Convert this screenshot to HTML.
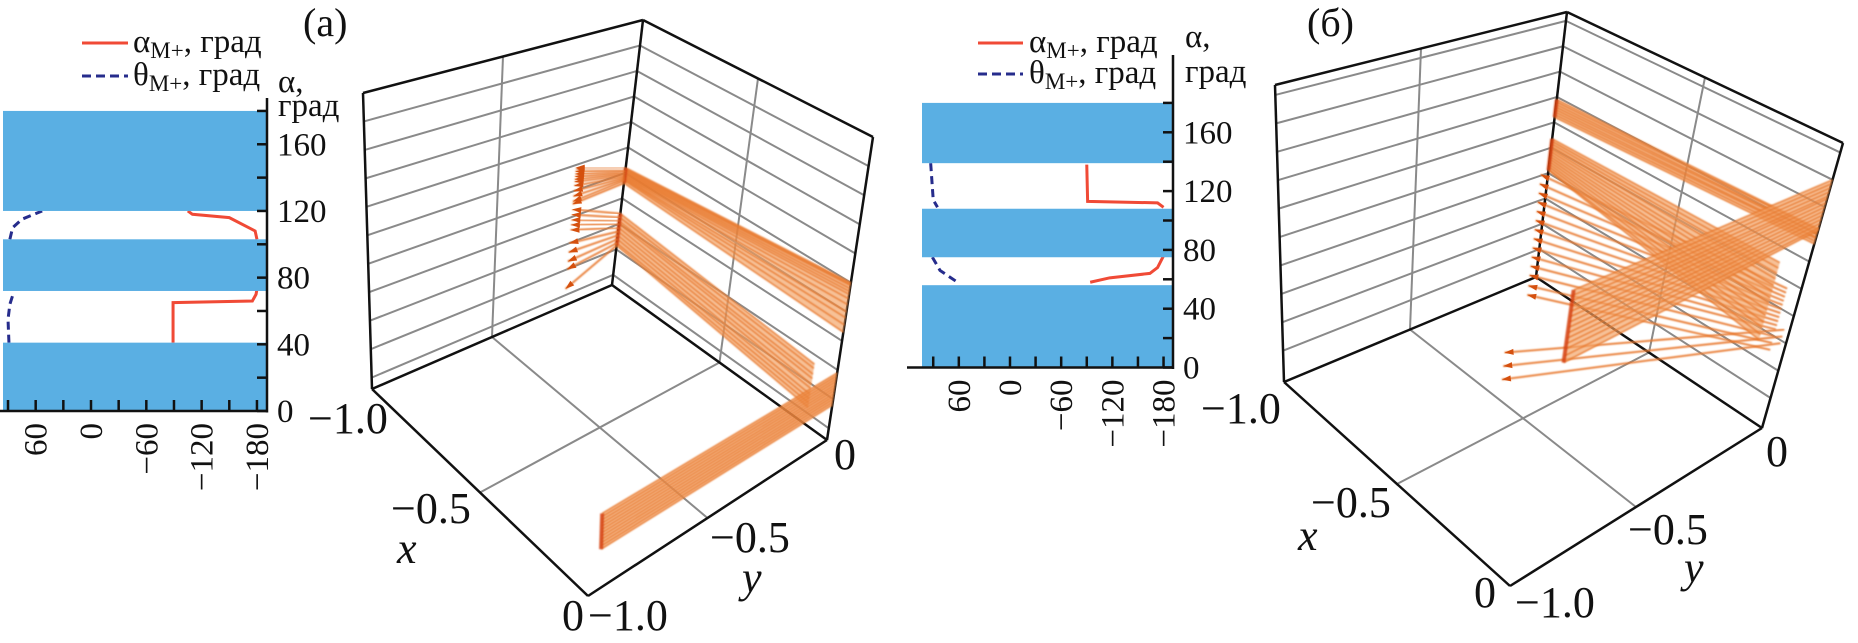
<!DOCTYPE html>
<html><head><meta charset="utf-8"><style>
html,body{margin:0;padding:0;background:#fff;}
svg{display:block;font-family:"Liberation Serif",serif;}
</style></head><body>
<svg id="fig" width="1858" height="643" viewBox="0 0 1858 643">
<defs><filter id="soft" x="-5%" y="-5%" width="110%" height="110%"><feGaussianBlur stdDeviation="0.7"/></filter></defs>
<g id="insetA"></g>
<g id="insetB"></g>
<g id="boxA"></g>
<g id="boxB"></g>
<g font-size="40" fill="#111">
<text x="303" y="36">(a)</text>
<text x="1307" y="36">(б)</text>
</g>
<g font-size="33" fill="#111">
<line x1="82" y1="43" x2="128" y2="43" stroke="#f04a36" stroke-width="3"/>
<text x="133" y="52">α<tspan font-size="23" dy="6">М+</tspan><tspan dy="-6">, град</tspan></text>
<line x1="82" y1="76" x2="128" y2="76" stroke="#262c8c" stroke-width="3" stroke-dasharray="9,5"/>
<text x="133" y="85">θ<tspan font-size="23" dy="6">М+</tspan><tspan dy="-6">, град</tspan></text>
<text x="278" y="92">α,</text>
<text x="278" y="116">град</text>
</g>
<g font-size="33" fill="#111">
<line x1="978" y1="43" x2="1023" y2="43" stroke="#f04a36" stroke-width="3"/>
<text x="1029" y="52">α<tspan font-size="23" dy="6">М+</tspan><tspan dy="-6">, град</tspan></text>
<line x1="978" y1="74" x2="1023" y2="74" stroke="#262c8c" stroke-width="3" stroke-dasharray="9,5"/>
<text x="1029" y="83">θ<tspan font-size="23" dy="6">М+</tspan><tspan dy="-6">, град</tspan></text>
<text x="1185" y="47">α,</text>
<text x="1185" y="82">град</text>
</g>
<g font-size="44" fill="#111">
<text x="308" y="433">−1.0</text>
<text x="391" y="523">−0.5</text>
<text x="397" y="563" font-style="italic">x</text>
<text x="562" y="630">0</text>
<text x="588" y="630">−1.0</text>
<text x="710" y="552">−0.5</text>
<text x="742" y="592" font-style="italic">y</text>
<text x="834" y="469">0</text>
<text x="1201" y="423">−1.0</text>
<text x="1311" y="517">−0.5</text>
<text x="1298" y="550" font-style="italic">x</text>
<text x="1474" y="607">0</text>
<text x="1515" y="617">−1.0</text>
<text x="1628" y="544">−0.5</text>
<text x="1684" y="582" font-style="italic">y</text>
<text x="1766" y="466">0</text>
</g>
</svg>
<script>
// ---------- inset data ----------
const alphaTicks = [0,20,40,60,80,100,120,140,160,180];
const alphaTickLabels = [0,40,80,120,160];
const thetaTicks = [90,60,30,0,-30,-60,-90,-120,-150,-180];
const thetaTickLabels = [60,0,-60,-120,-180];
// panel (a) inset
const aBarsTop = [180,103,41];
const aBarsBottom = [120,72,0];
const aRedTheta1 = [-89,-89,-175,-179,-180];
const aRedAlpha1 = [41,65,66,70,73];
const aRedTheta2 = [-180,-178,-150,-110,-105];
const aRedAlpha2 = [103,108,116,118,120];
const aBlueTheta1 = [89,90,88,84];
const aBlueAlpha1 = [41,55,64,71];
const aBlueTheta2 = [88,85,75,53];
const aBlueAlpha2 = [103,110,115,120];
// panel (б) inset
const bBarsTop = [180,108,56];
const bBarsBottom = [139,75,0];
const bRedTheta1 = [-90,-91,-173,-180];
const bRedAlpha1 = [138,113,112,109];
const bRedTheta2 = [-180,-173,-164,-117,-94];
const bRedAlpha2 = [76,68,64,61,58];
const bBlueTheta1 = [93,90,85];
const bBlueAlpha1 = [139,114,109];
const bBlueTheta2 = [91,82,59];
const bBlueAlpha2 = [75,66,57];

// ---------- 3D trajectory data (x, y in [-1,0], alpha in degrees) ----------
const zGrid = [0,20,40,60,80,100,120,140,160,180];
// (a) upper band
const aUpTail = [98,97,95,93,91,89,87,84,80,76,72,70];
const aUpMid  = [84,83,82,81,80,79,78,77,76,75,74,72];
const aUpEnd  = [100,99,98,96,94,92,89,85,80,76,71,66];
// (a) lower band
const aLoTail = [66,62,58,54,50,40,33,26,20,5];
const aLoMid  = [48,45,42,40,37,34,31,28,25,23];
const aLoEnd  = [34,31,27,24,20,17,13,10,7,4];
// (a) bottom band (x = 0 plane)
const aBotAlpha = [16,18,20,22,24,26,28,30,32,34,36,38];
// (б) dark band
const bDkMid = [118,116,114,112,110,108,106,104];
const bDkEnd = [124,123,121,120,118,117,115,113];
// (б) light band
const bLtMid = [87,85,83,81,79,77,75,73,71,69,67,65,63,62];
const bLtEnd = [89,85,81,77,72,68,63,59,54,50,45,41,36,32];
// (б) crossing band
const bCrStart = [26,22,18,14,10,6,2,-2,-6,-10,-14,-18,-23,-28];
const bCrEnd   = [160,157,154,151,148,146,143,140,137,134,131,128,125,123];
// (б) arrow lines
const bArTail = [83,76,69,62,55,48,41,34,27,20,13,6,-2,-9];
const bArEnd  = [75,72,69,66,63,60,57,54,51,48,45,40,35,30];
const bLongTail = [-30,-40,-50];
const bLongEnd  = [48,43,38];

const NS = "http://www.w3.org/2000/svg";
function el(tag, attrs, parent){ const e=document.createElementNS(NS,tag); for(const k in attrs) e.setAttribute(k,attrs[k]); parent.appendChild(e); return e; }
function lerp(p,q,t){ return [p[0]+(q[0]-p[0])*t, p[1]+(q[1]-p[1])*t]; }

// ---------- insets ----------
function drawInset(g, cfg){
  const sx = t => cfg.x0 - t*cfg.kx, sy = a => cfg.y0 - a*cfg.ky;
  function curve(th, al, dashed, name){
    const p = el('polyline',{points: th.map((t,i)=>sx(t)+','+sy(al[i])).join(' '), fill:'none', stroke: dashed?'#262c8c':'#f04a36','stroke-width':3,'stroke-dasharray': dashed?'8,5':'none'}, g);
    
    
  }
  curve(cfg.r1t,cfg.r1a,false,'alpha-curve-low'); curve(cfg.r2t,cfg.r2a,false,'alpha-curve-high');
  curve(cfg.b1t,cfg.b1a,true,'theta-curve-low'); curve(cfg.b2t,cfg.b2a,true,'theta-curve-high');
  cfg.top.forEach((t,i)=>{
    const r = el('rect',{x:cfg.barX, y:sy(t), width:cfg.axisX-cfg.barX, height:sy(cfg.bot[i])-sy(t), fill:'#5aafe3'}, g);
    
    
  });
  el('line',{x1:cfg.axisX,y1:cfg.axisTop,x2:cfg.axisX,y2:sy(0)+1.5,stroke:'#111','stroke-width':2.5},g);
  el('line',{x1:cfg.hStart,y1:sy(0),x2:cfg.axisX,y2:sy(0),stroke:'#111','stroke-width':2.5},g);
  alphaTicks.forEach(a=>el('line',{x1:cfg.axisX-10,y1:sy(a),x2:cfg.axisX,y2:sy(a),stroke:'#111','stroke-width':2.5},g));
  thetaTicks.forEach(t=>el('line',{x1:sx(t),y1:sy(0)-11,x2:sx(t),y2:sy(0),stroke:'#111','stroke-width':2.5},g));
  alphaTickLabels.forEach(a=>{
    const t = el('text',{x:cfg.axisX+10,y:sy(a)+11,'font-size':33,fill:'#111'},g); t.textContent=a;
    
    
  });
  thetaTickLabels.forEach(v=>{
    const x=sx(v)+11, y=sy(0)+12;
    const t = el('text',{x:x,y:y,'font-size':33,fill:'#111','text-anchor':'end',transform:'rotate(-90 '+x+' '+y+')'},g);
    t.textContent = String(v).replace('-','−');
    
    
  });
}
drawInset(document.getElementById('insetA'),{x0:91,kx:0.922,y0:411,ky:1.667,axisX:267,axisTop:98,hStart:0,barX:3,
  top:aBarsTop,bot:aBarsBottom,r1t:aRedTheta1,r1a:aRedAlpha1,r2t:aRedTheta2,r2a:aRedAlpha2,b1t:aBlueTheta1,b1a:aBlueAlpha1,b2t:aBlueTheta2,b2a:aBlueAlpha2});
drawInset(document.getElementById('insetB'),{x0:1010,kx:0.853,y0:367.5,ky:1.47,axisX:1173,axisTop:55,hStart:907,barX:922,
  top:bBarsTop,bot:bBarsBottom,r1t:bRedTheta1,r1a:bRedAlpha1,r2t:bRedTheta2,r2a:bRedAlpha2,b1t:bBlueTheta1,b1a:bBlueAlpha1,b2t:bBlueTheta2,b2a:bBlueAlpha2});

// ---------- 3D boxes ----------
function makeProj(floor, top, zmin, zmax){
  return function(x,y,a){
    const u=x+1, v=y+1, w=(a-zmin)/(zmax-zmin);
    const bl = c => lerp(lerp(c[0],c[1],u), lerp(c[3],c[2],u), v);
    return lerp(bl(floor), bl(top), w);
  };
}
function drawBox(g, P, zmax){
  const line=(p,q,c,w,name)=>{ const l=el('line',{x1:p[0],y1:p[1],x2:q[0],y2:q[1],stroke:c,'stroke-width':w},g);
      };
  const gray='#8a8a8a';
  zGrid.forEach(z=>{ line(P(-1,-1,z),P(-1,0,z),gray,2,'left-wall-grid'); line(P(-1,0,z),P(0,0,z),gray,2,'right-wall-grid'); });
  line(P(-1,-0.5,P.zmin),P(-1,-0.5,zmax),gray,2,'left-wall-mid');
  line(P(-0.5,0,P.zmin),P(-0.5,0,zmax),gray,2,'right-wall-mid');
  line(P(-1,-0.5,P.zmin),P(0,-0.5,P.zmin),gray,2,'floor-grid-y');
  line(P(-0.5,-1,P.zmin),P(-0.5,0,P.zmin),gray,2,'floor-grid-x');
  const k='#111', z0=P.zmin;
  line(P(-1,-1,z0),P(-1,-1,zmax),k,2.5,'edge'); line(P(-1,0,z0),P(-1,0,zmax),k,2.5,'edge'); line(P(0,0,z0),P(0,0,zmax),k,2.5,'edge');
  line(P(-1,-1,zmax),P(-1,0,zmax),k,2.5,'edge'); line(P(-1,0,zmax),P(0,0,zmax),k,2.5,'edge');
  line(P(-1,-1,z0),P(-1,0,z0),k,2.5,'edge'); line(P(-1,0,z0),P(0,0,z0),k,2.5,'edge');
  line(P(-1,-1,z0),P(0,-1,z0),k,2.5,'edge'); line(P(0,-1,z0),P(0,0,z0),k,2.5,'edge');
}
function band(g, lines, name, dark){
  const gg = el('g',{filter:'url(#soft)'},g);
  
  
  const first=lines[0], last=lines[lines.length-1];
  const poly = first.concat(last.slice().reverse());
  el('polygon',{points:poly.map(p=>p.join(',')).join(' '),fill:'#f3a060','fill-opacity':0.65},gg);
  lines.forEach(l=>{
    const p=el('polyline',{points:l.map(q=>q.join(',')).join(' '),fill:'none',stroke:'#e8782c','stroke-width':1.6,'stroke-opacity':0.85},gg);
    
    
  });
  if(dark){
    el('polyline',{points:lines.map(l=>l[dark-1].join(',')).join(' '),fill:'none',stroke:'#d5400e','stroke-width':4,'stroke-opacity':0.85},gg);
  }
}
function arrows(g, lines, name){
  lines.forEach(l=>{
    const p=el('polyline',{points:l.map(q=>q.join(',')).join(' '),fill:'none',stroke:'#e8782c','stroke-width':2,'stroke-opacity':0.9,filter:'url(#soft)'},g);
    
    
    const a=l[0], b=l[1]; const dx=b[0]-a[0], dy=b[1]-a[1], L=Math.hypot(dx,dy), ux=dx/L, uy=dy/L;
    const h=el('polygon',{points:[a, [a[0]+ux*9-uy*3,a[1]+uy*9+ux*3],[a[0]+ux*9+uy*3,a[1]+uy*9-ux*3]].map(q=>q.join(',')).join(' '),fill:'#d5500e'},g);
    
    
  });
}

// panel (a)
const PA = makeProj([[372,389],[588,596],[827,440],[612,285]],[[363,93],[596,256],[873,137],[643,20]],-8,200);
PA.zmin=-8;
const gA=document.getElementById('boxA');
drawBox(gA, PA, 200);
band(gA, aUpMid.map((m,i)=>[PA(-1,0,m),PA(0,0,aUpEnd[i])]), 'upper-band-a', 1);
band(gA, aLoMid.map((m,i)=>[PA(-1,0,m),PA(-0.1,0,aLoEnd[i])]), 'lower-band-a', 1);
arrows(gA, aUpTail.map((t,i)=>[PA(-1,-0.2,t),PA(-1,0,aUpMid[i])]), 'arrow-a');
arrows(gA, aLoTail.map((t,i)=>[PA(-1,-0.2,t),PA(-1,0,aLoMid[i])]), 'arrow-a');
band(gA, aBotAlpha.map(a=>[PA(0,-0.95,a),PA(0,0,a)]), 'bottom-band-a', 1);

// panel (б)
const PB = makeProj([[1284,382],[1510,586],[1762,428],[1536,277]],[[1275,85],[1530,226],[1843,143],[1567,12]],-22,187);
PB.zmin=-22;
const gB=document.getElementById('boxB');
drawBox(gB, PB, 187);
arrows(gB, bArTail.map((t,i)=>[PB(-0.88,-0.15,t),PB(-0.05,0,bArEnd[i])]), 'arrow-b');
arrows(gB, bLongTail.map((t,i)=>[PB(-0.8,-0.3,t),PB(-0.02,0,bLongEnd[i])]), 'long-line-b');
band(gB, bDkMid.map((m,i)=>[PB(-1,0,m),PB(0,0,bDkEnd[i])]), 'dark-band-b', 1);
band(gB, bLtMid.map((m,i)=>[PB(-1,0,m),PB(-0.1,0,bLtEnd[i])]), 'light-band-b', 1);
band(gB, bCrStart.map((s,i)=>[PB(-0.65,-0.2,s),PB(0,0,bCrEnd[i])]), 'crossing-band-b', 1);
</script>
</body></html>
